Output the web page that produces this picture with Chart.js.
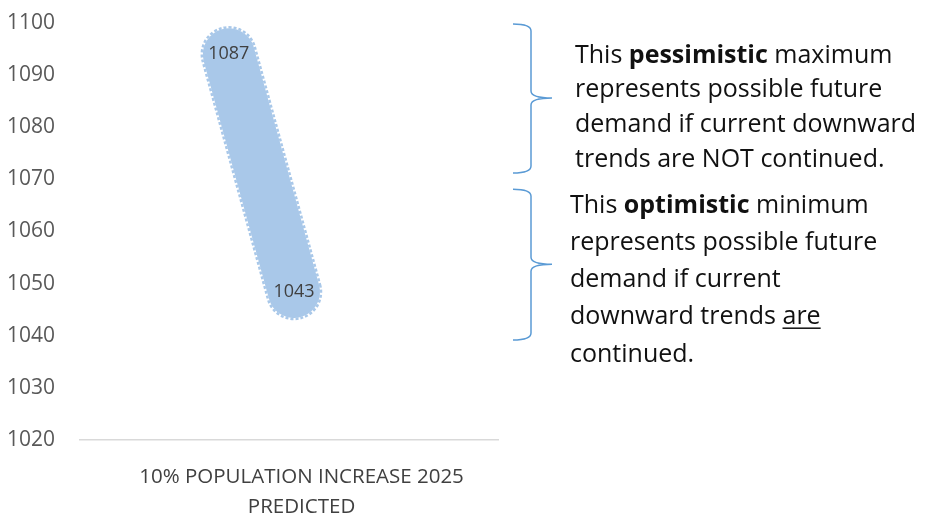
<!DOCTYPE html>
<html>
<head>
<meta charset="utf-8">
<script src="https://cdn.jsdelivr.net/npm/chart.js@4.4.1/dist/chart.umd.min.js"></script>
<style>
  html, body { margin: 0; padding: 0; background: #fff; }
</style>
</head>
<body>
<canvas id="myChart" width="926" height="516"></canvas>
<script>
// category shown under the axis
const categoryLabel = ['10% POPULATION INCREASE 2025', 'PREDICTED'];
const categoryX = 53;            // where the category sits on the 0-100 x range

// y axis
const yMin = 1020, yMax = 1100, yStep = 10;

// the band: numbers printed on it and where its two ends sit
const labelValues = [1087, 1043];
const bandY = [1094, 1048.4];
const bandX = [35.6, 51.2];

const bandColor = '#a9c8e9';
const braceColor = '#5b9bd5';
const font = 'Open Sans';

// notes on the right
const notes = [
    {top: 1099.8, mid: 1085.6, bottom: 1071.2, x: 575, base: 62.7, lh: 34.7, lines: [
        [['This ', 'n'], ['pessimistic', 'b'], [' maximum', 'n']],
        [['represents possible future', 'n']],
        [['demand if current downward', 'n']],
        [['trends are NOT continued.', 'n']]
    ]},
    {top: 1068.1, mid: 1053.7, bottom: 1039.2, x: 570, base: 212.7, lh: 37.25, lines: [
        [['This ', 'n'], ['optimistic', 'b'], [' minimum', 'n']],
        [['represents possible future', 'n']],
        [['demand if current', 'n']],
        [['downward trends ', 'n'], ['are', 'u']],
        [['continued.', 'n']]
    ]}
];

const bandPlugin = {
    id: 'band',
    afterDatasetsDraw(chart) {
        const ctx = chart.ctx;
        const pts = chart.getDatasetMeta(0).data;
        const a = pts[0], b = pts[1];
        const r = 27;
        const ang = Math.atan2(b.y - a.y, b.x - a.x);
        ctx.save();
        // dashed rim
        ctx.beginPath();
        ctx.arc(b.x, b.y, r, ang - Math.PI / 2, ang + Math.PI / 2);
        ctx.arc(a.x, a.y, r, ang + Math.PI / 2, ang + Math.PI * 1.5);
        ctx.closePath();
        ctx.setLineDash([3, 2]);
        ctx.lineWidth = 2.5;
        ctx.strokeStyle = bandColor;
        ctx.stroke();
        ctx.setLineDash([]);
        // value labels
        ctx.fillStyle = '#404040';
        ctx.font = '18px ' + font;
        ctx.textAlign = 'center';
        ctx.textBaseline = 'middle';
        pts.forEach((p, i) => ctx.fillText(String(labelValues[i]), p.x, p.y));
        ctx.restore();
    }
};

function drawBrace(ctx, x0, x1, x2, yTop, yMid, yBot) {
    const c = 7;
    ctx.beginPath();
    ctx.moveTo(x0, yTop);
    ctx.quadraticCurveTo(x1, yTop, x1, yTop + c);
    ctx.lineTo(x1, yMid - c);
    ctx.quadraticCurveTo(x1, yMid, x2, yMid);
    ctx.moveTo(x2, yMid);
    ctx.quadraticCurveTo(x1, yMid, x1, yMid + c);
    ctx.lineTo(x1, yBot - c);
    ctx.quadraticCurveTo(x1, yBot, x0, yBot);
    ctx.stroke();
}

const notesPlugin = {
    id: 'notes',
    afterDraw(chart) {
        const ctx = chart.ctx;
        const ys = chart.scales.y;
        const right = chart.chartArea.right;
        ctx.save();
        notes.forEach(n => {
            ctx.strokeStyle = braceColor;
            ctx.lineWidth = 1.5;
            drawBrace(ctx, right + 15, right + 33, right + 54,
                ys.getPixelForValue(n.top), ys.getPixelForValue(n.mid), ys.getPixelForValue(n.bottom));

            ctx.textBaseline = 'alphabetic';
            ctx.textAlign = 'left';
            n.lines.forEach((line, i) => {
                let x = n.x;
                const y = n.base + i * n.lh;
                line.forEach(([txt, st]) => {
                    ctx.font = (st === 'b' ? 'bold ' : '') + '25px ' + font;
                    ctx.fillStyle = '#111';
                    ctx.fillText(txt, x, y);
                    const w = ctx.measureText(txt).width;
                    if (st === 'u') {
                        ctx.fillRect(x, y + 3, w, 1.5);
                    }
                    x += w;
                });
            });
        });
        ctx.restore();
    }
};

const ctx = document.getElementById('myChart').getContext('2d');

const myChart = new Chart(ctx, {
    type: 'line',
    data: {
        datasets: [{
            label: categoryLabel.join(' '),
            data: bandX.map((x, i) => ({x: x, y: bandY[i]})),
            borderColor: bandColor,
            borderWidth: 52,
            borderCapStyle: 'round',
            pointRadius: 0,
            clip: false
        }]
    },
    options: {
        responsive: false,
        animation: false,
        layout: {
            padding: {top: 23, left: 0, right: 428, bottom: 0}
        },
        plugins: {
            legend: {display: false},
            tooltip: {enabled: false}
        },
        scales: {
            x: {
                type: 'linear',
                min: 0,
                max: 100,
                afterBuildTicks: (s) => { s.ticks = [{value: categoryX}]; },
                afterFit: (s) => { s.height = 76; },
                grid: {display: false, drawTicks: false},
                border: {display: true, color: '#d9d9d9', width: 1.5},
                ticks: {
                    callback: () => categoryLabel,
                    color: '#404040',
                    font: {family: font, size: 20.5, lineHeight: 1.42},
                    padding: 23,
                    maxRotation: 0
                }
            },
            y: {
                min: yMin,
                max: yMax,
                afterFit: (s) => { s.width = 80; s.paddingTop = 12; s.paddingBottom = 12; },
                grid: {display: false, drawTicks: false},
                border: {display: false},
                ticks: {
                    stepSize: yStep,
                    callback: (v) => String(v),
                    color: '#595959',
                    font: {family: font, size: 21},
                    padding: 25
                }
            }
        }
    },
    plugins: [bandPlugin, notesPlugin]
});
</script>
</body>
</html>
